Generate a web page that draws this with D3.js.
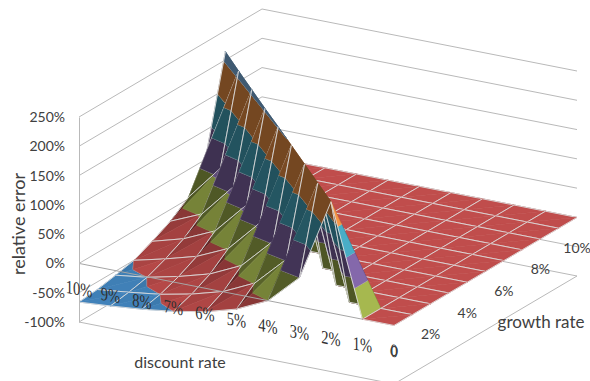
<!DOCTYPE html>
<html lang="en">
<head>
<meta charset="UTF-8" />
<title>relative error surface</title>
<script src="https://d3js.org/d3.v7.min.js"></script>
<style>
    body { margin: 0; background: #fff; }
    svg { display: block; }
    text { font-family: Lato, "Open Sans", sans-serif; fill: #404040; }
    .axis text { font-size: 14px; }
    .serif { font-family: "Liberation Serif", serif; font-size: 14.5px; fill: #303030; }
</style>
</head>
<body>
<script>
var w = 590, h = 381;

var discountLabels = ["0", "1%", "2%", "3%", "4%", "5%", "6%", "7%", "8%", "9%", "10%"];
var growthLabels = ["0", "", "2%", "", "4%", "", "6%", "", "8%", "", "10%"];
var zTicks = [-100, -50, 0, 50, 100, 150, 200, 250];

// relative error (%), one array per growth rate, discount rate 0..10%
var g0  = [0, 0, 190,  50,   0, -25, -40, -50, -57, -62, -66];
var g1  = [0, 0,   0, 193,  52,   1, -24, -39, -50, -57, -63];
var g2  = [0, 0,   0,   0, 196,  54,   2, -23, -38, -50, -57];
var g3  = [0, 0,   0,   0,   0, 199,  56,   2, -22, -37, -50];
var g4  = [0, 0,   0,   0,   0,   0, 202,  58,   3, -21, -36];
var g5  = [0, 0,   0,   0,   0,   0,   0, 204,  60,   3, -20];
var g6  = [0, 0,   0,   0,   0,   0,   0,   0, 207,  62,   3];
var g7  = [0, 0,   0,   0,   0,   0,   0,   0,   0, 210,  65];
var g8  = [0, 0,   0,   0,   0,   0,   0,   0,   0,   0, 214];
var g9  = [0, 0,   0,   0,   0,   0,   0,   0,   0,   0,   0];
var g10 = [0, 0,   0,   0,   0,   0,   0,   0,   0,   0,   0];
var rows = [g0, g1, g2, g3, g4, g5, g6, g7, g8, g9, g10];

// one colour per 50% band, -100 upwards
var bandColors = ["#4387c1", "#c14d4c", "#a6b84f", "#8468ab", "#49adc6", "#f79646", "#86c0f2"];

var svg = d3.select("body").append("svg").attr("width", w).attr("height", h);

// oblique projection: the floor is a parallelogram on screen
var xD = d3.scaleLinear().domain([0, 10]).range([394, 79]);
var yD = d3.scaleLinear().domain([0, 10]).range([384, 322]);
var xG = d3.scaleLinear().domain([0, 10]).range([0, 183]);
var yG = d3.scaleLinear().domain([0, 10]).range([0, -108]);
var yZ = d3.scaleLinear().domain([-100, 250]).range([0, -205]);
var zAxisScale = d3.scaleLinear().domain([-100, 250]).range([322, 117]);

function project(p) {
    return [xD(p[0]) + xG(p[1]), yD(p[0]) + yG(p[1]) + yZ(p[2])];
}
var line3d = d3.line().x(function (p) { return project(p)[0]; }).y(function (p) { return project(p)[1]; });

// walls and floor
var gridColor = "#b9b9b9";
var walls = svg.append("g").attr("fill", "none").attr("stroke", gridColor).attr("stroke-width", 1);
zTicks.forEach(function (z) {
    walls.append("path").attr("d", line3d([[10, 0, z], [10, 10, z], [0, 10, z]]));
});
walls.append("path").attr("d", line3d([[10, 0, -100], [0, 0, -100], [0, 10, -100]]));

// clip a polygon of [d, g, z] points to one z band
function clipZ(poly, limit, keepAbove) {
    var out = [];
    poly.forEach(function (a, n) {
        var b = poly[(n + 1) % poly.length];
        var aIn = keepAbove ? a[2] >= limit : a[2] <= limit;
        var bIn = keepAbove ? b[2] >= limit : b[2] <= limit;
        if (aIn) out.push(a);
        if (aIn !== bIn) {
            var t = (limit - a[2]) / (b[2] - a[2]);
            out.push([a[0] + t * (b[0] - a[0]), a[1] + t * (b[1] - a[1]), limit]);
        }
    });
    return out;
}

var light = [-0.6, -0.1, 0.8];
var stepPx = 34, zPx = 205 / 350;

function shadeOf(tri) {
    var p0 = tri[0], p1 = tri[1], p2 = tri[2];
    var ax = (p1[0] - p0[0]) * stepPx, ay = (p1[1] - p0[1]) * stepPx, az = (p1[2] - p0[2]) * zPx;
    var bx = (p2[0] - p0[0]) * stepPx, by = (p2[1] - p0[1]) * stepPx, bz = (p2[2] - p0[2]) * zPx;
    var n = [ay * bz - az * by, az * bx - ax * bz, ax * by - ay * bx];
    if (n[2] < 0) n = [-n[0], -n[1], -n[2]];
    var len = Math.hypot(n[0], n[1], n[2]);
    var dot = (n[0] * light[0] + n[1] * light[1] + n[2] * light[2]) / len;
    // seen from below: underside is dark
    var s = project(p0), t = project(p1), u = project(p2);
    var area = (t[0] - s[0]) * (u[1] - s[1]) - (t[1] - s[1]) * (u[0] - s[0]);
    var flatA = project([p0[0], p0[1], 0]), flatB = project([p1[0], p1[1], 0]), flatC = project([p2[0], p2[1], 0]);
    var flatArea = (flatB[0] - flatA[0]) * (flatC[1] - flatA[1]) - (flatB[1] - flatA[1]) * (flatC[0] - flatA[0]);
    if (area * flatArea < 0) return 0.47;
    return Math.max(0.47, Math.min(1, 0.47 + 0.81 * (dot - 0.15)));
}

function darken(color, k) {
    var c = d3.rgb(color);
    return d3.rgb(c.r * k, c.g * k, c.b * k).formatRgb();
}

var surface = svg.append("g");
var lineColor = "#dedede";

function drawTriangle(tri, edges) {
    var k = shadeOf(tri);
    bandColors.forEach(function (color, b) {
        var lo = -100 + b * 50, hi = lo + 50;
        var poly = clipZ(clipZ(tri, lo, true), hi, false);
        if (poly.length < 3) return;
        if (d3.max(poly, function (p) { return p[2]; }) <= lo) return;
        var fill = darken(color, k);
        surface.append("path")
            .attr("d", line3d(poly) + "Z")
            .attr("fill", fill)
            .attr("stroke", fill)
            .attr("stroke-width", 0.6);
        // band boundary
        poly.forEach(function (a, n) {
            var c = poly[(n + 1) % poly.length];
            if (a[2] === hi && c[2] === hi && hi !== 0) {
                surface.append("path").attr("d", line3d([a, c]))
                    .attr("stroke", lineColor).attr("stroke-width", 0.8).attr("fill", "none");
            }
        });
    });
    edges.forEach(function (e) {
        surface.append("path").attr("d", line3d(e))
            .attr("stroke", lineColor).attr("stroke-width", 0.9).attr("fill", "none");
    });
}

// back to front from the near corner
d3.range(9, -1, -1).forEach(function (d) {
    d3.range(9, -1, -1).forEach(function (g) {
        var a = [d, g, rows[g][d]];
        var b = [d + 1, g, rows[g][d + 1]];
        var c = [d, g + 1, rows[g + 1][d]];
        var e = [d + 1, g + 1, rows[g + 1][d + 1]];
        if (d - g === 2) {
            // crest cells fold along the ridge line
            drawTriangle([a, e, c], [[a, c], [c, e]]);
            drawTriangle([a, b, e], [[a, b], [b, e]]);
        } else {
            drawTriangle([e, b, c], [[e, b], [e, c]]);
            drawTriangle([a, b, c], [[a, b], [a, c]]);
        }
    });
});

// category axis line at zero, over the surface
svg.append("path")
    .attr("d", line3d([[10, 0, 0], [1, 0, 0]]))
    .attr("fill", "none").attr("stroke", "#a6a6a6").attr("stroke-width", 1);

// value axis
var axis = svg.append("g")
    .attr("class", "axis")
    .attr("transform", "translate(79,0)")
    .call(d3.axisLeft(zAxisScale).tickValues(zTicks).tickSize(0).tickPadding(14)
        .tickFormat(function (d) { return d + "%"; }));
axis.select(".domain").attr("stroke", gridColor);
axis.selectAll("text").attr("fill", "#404040");

// discount rate labels
discountLabels.forEach(function (label, d) {
    var p = project([d, 0, -44]);
    svg.append("text")
        .attr("class", "serif")
        .attr("text-anchor", "middle")
        .attr("transform", "translate(" + p[0] + "," + (p[1] + 6) + ") skewY(10) scale(1,1.3)")
        .text(label);
});

// growth rate labels
growthLabels.forEach(function (label, g) {
    if (!label) return;
    var p = project([0, g, g === 0 ? -44 : -52]);
    svg.append("text")
        .attr("text-anchor", "middle")
        .attr("font-size", 14)
        .attr("x", p[0])
        .attr("y", p[1] + 5)
        .text(label);
});

// axis titles
svg.append("text").attr("font-size", 18).attr("text-anchor", "middle")
    .attr("transform", "translate(25,224) rotate(-90)").text("relative error");
svg.append("text").attr("font-size", 16).attr("text-anchor", "middle")
    .attr("x", 180).attr("y", 368).text("discount rate");
svg.append("text").attr("font-size", 17).attr("text-anchor", "middle")
    .attr("x", 541).attr("y", 328).text("growth rate");
</script>
</body>
</html>
